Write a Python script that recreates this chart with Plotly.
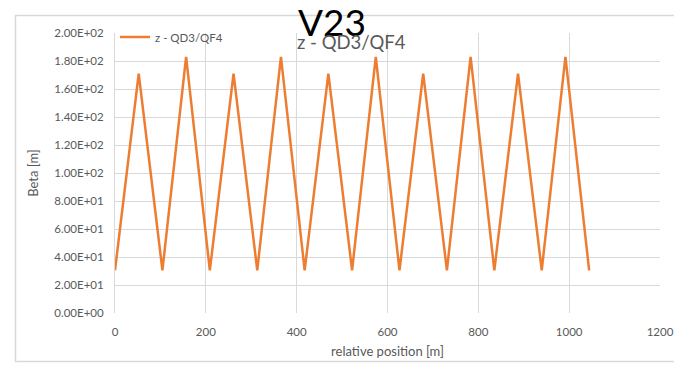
import plotly.graph_objects as go

# Data
positions = [0, 52.2, 104.4, 156.6, 208.8, 261.0, 313.2, 365.4, 417.6, 469.8, 522.0,
             574.2, 626.4, 678.6, 730.8, 783.0, 835.2, 887.4, 939.6, 991.8, 1044.0]
beta_z = [30.5, 171, 30.5, 183, 30.5, 171, 30.5, 183, 30.5, 171, 30.5,
          183, 30.5, 171, 30.5, 183, 30.5, 171, 30.5, 183, 30.5]
series_name = "z - QD3/QF4"
y_tick_vals = [0, 20, 40, 60, 80, 100, 120, 140, 160, 180, 200]
y_tick_text = ["0.00E+00", "2.00E+01", "4.00E+01", "6.00E+01", "8.00E+01", "1.00E+02",
               "1.20E+02", "1.40E+02", "1.60E+02", "1.80E+02", "2.00E+02"]
x_tick_vals = [0, 200, 400, 600, 800, 1000, 1200]

FONT = "Lato"
GRAY = "#595959"
GRID = "#d9d9d9"

fig = go.Figure()
fig.add_trace(go.Scatter(x=positions, y=beta_z, mode="lines", name=series_name,
                         line=dict(color="#ED7D31", width=2.5)))

W, H = 674, 365
L, R, T, B = 115, 14, 33, 52
pw, ph = W - L - R, H - T - B

def px(xp):
    return (xp - L) / pw

def py(yp):
    return (H - B - yp) / ph

fig.update_layout(
    width=W, height=H,
    margin=dict(l=L, r=R, t=T, b=B, autoexpand=False),
    paper_bgcolor="white", plot_bgcolor="white",
    font=dict(family=FONT, color=GRAY, size=11),
    showlegend=True,
    legend=dict(x=px(115), y=py(37), xanchor="left", yanchor="middle",
                bgcolor="rgba(0,0,0,0)", font=dict(size=11.5, color=GRAY, family=FONT),
                itemwidth=30, tracegroupgap=0),
    xaxis=dict(range=[0, 1200], tickvals=x_tick_vals, showgrid=True, gridcolor=GRID,
               gridwidth=1, zeroline=False, showline=False, automargin=False,
               ticks="outside", ticklen=8, tickcolor="rgba(0,0,0,0)",
               tickfont=dict(size=11.5, color=GRAY, family=FONT),
               title=dict(text="relative position [m]", font=dict(size=13, color=GRAY, family=FONT),
                          standoff=10)),
    yaxis=dict(range=[0, 200], tickvals=y_tick_vals, ticktext=y_tick_text, showgrid=True,
               gridcolor=GRID, gridwidth=1, zeroline=False, showline=True, linecolor=GRID,
               automargin=False,
               ticks="outside", ticklen=8, tickcolor="rgba(0,0,0,0)",
               tickfont=dict(size=11.5, color=GRAY, family=FONT),
               title=dict(text="Beta [m]", font=dict(size=13, color=GRAY, family=FONT),
                          standoff=12)),
    shapes=[dict(type="rect", xref="paper", yref="paper",
                 x0=px(15.5), x1=px(690), y0=py(361.5), y1=py(15.5),
                 line=dict(color=GRID, width=1.5), layer="below")],
    annotations=[
        dict(text="V23", xref="paper", yref="paper", x=px(332), y=py(22),
             xanchor="center", yanchor="middle", showarrow=False,
             font=dict(size=37, color="black", family=FONT)),
        dict(text="z - QD3/QF4", xref="paper", yref="paper", x=px(351), y=py(42),
             xanchor="center", yanchor="middle", showarrow=False,
             font=dict(size=18.5, color=GRAY, family=FONT)),
    ],
)

fig.write_html("out.html")
